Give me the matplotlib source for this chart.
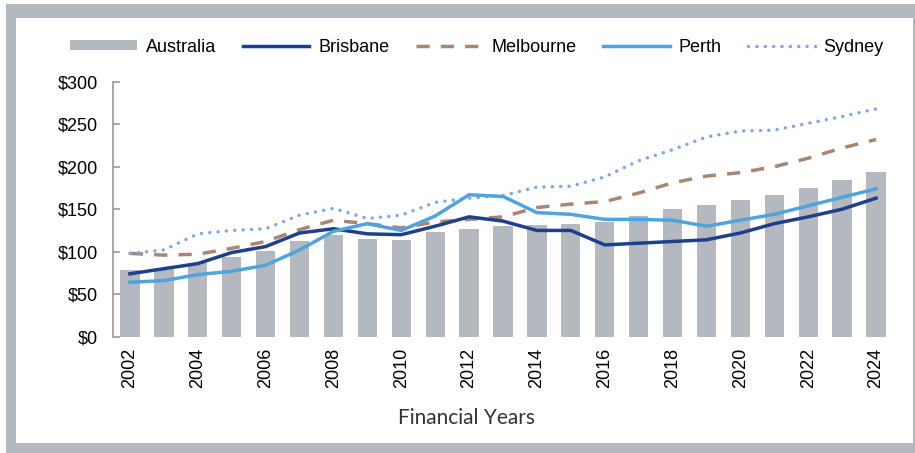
import matplotlib
matplotlib.use("Agg")
import matplotlib.pyplot as plt
from matplotlib.patches import Rectangle
import numpy as np

plt.rcParams['font.family'] = ['Liberation Sans', 'DejaVu Sans']

years = list(range(2002, 2025))
australia = [78, 81, 87, 94, 101, 112, 120, 115, 114, 123, 127, 130, 131, 133, 135,
             142, 150, 155, 161, 167, 175, 184, 194]
brisbane = [74, 80, 86, 99, 106, 122, 127, 121, 120, 130, 141, 136, 125, 125, 108,
            110, 112, 114, 122, 133, 141, 150, 163]
melbourne = [98, 96, 97, 104, 112, 126, 137, 133, 128, 135, 138, 141, 152, 156, 159,
             169, 181, 189, 193, 200, 210, 222, 232]
perth = [64, 66, 73, 77, 84, 102, 124, 133, 125, 142, 167, 165, 146, 144, 138,
         138, 137, 130, 137, 144, 154, 164, 174]
sydney = [98, 102, 121, 125, 127, 143, 151, 139, 143, 158, 163, 166, 176, 177, 188,
          207, 220, 235, 242, 243, 251, 259, 268]

W, H = 915, 453
fig = plt.figure(figsize=(W / 100, H / 100), dpi=100)

# grey frame with white panel inside
fig.patches.append(Rectangle((6 / W, 0), 1 - 6 / W, 1 - 4 / H, transform=fig.transFigure,
                             facecolor='#b4b9bf', edgecolor='none', zorder=-10))
fig.patches.append(Rectangle((16 / W, 10 / H), (913 - 16) / W, (435 - 10) / H,
                             transform=fig.transFigure, facecolor='white',
                             edgecolor='none', zorder=-9))

ax = fig.add_axes([113 / W, (H - 336.7) / H, (893 - 113) / W, (336.7 - 81.7) / H])
ax.patch.set_alpha(0)

x = np.arange(len(years))
ax.bar(x, australia, width=0.57, color='#b4b9bf', label='Australia', zorder=1)
ax.plot(x, brisbane, color='#1d3f8c', lw=2.5, label='Brisbane', zorder=3)
ax.plot(x, melbourne, color='#a98672', lw=2.5, linestyle=(0, (3.8, 3.2)),
        label='Melbourne', zorder=2)
ax.plot(x, perth, color='#4fa4de', lw=2.5, label='Perth', zorder=3)
ax.plot(x, sydney, color='#7ea6ea', lw=2.5, linestyle=(0, (0.01, 2.4)),
        dash_capstyle='round', label='Sydney', zorder=2)

ax.set_xlim(-0.5, len(years) - 0.5)
ax.set_ylim(0, 300)
ax.set_yticks(range(0, 301, 50))
ax.set_yticklabels(['$' + str(v) for v in range(0, 301, 50)], fontsize=13)
ax.set_xticks(x[::2])
ax.set_xticklabels([str(y) for y in years[::2]], rotation=90, fontsize=13)

for s in ['top', 'right', 'bottom']:
    ax.spines[s].set_visible(False)
ax.spines['left'].set_color('#9a9a9a')
ax.spines['left'].set_linewidth(1.2)
ax.tick_params(axis='y', direction='in', length=5, width=1.2, color='#9a9a9a', pad=11)
ax.tick_params(axis='x', length=0, pad=8)

fig.text(467 / W, 1 - 418 / H, 'Financial Years', ha='center', va='center',
         fontsize=15, family=['Lato', 'DejaVu Sans'], color='#333333')

handles, labels = ax.get_legend_handles_labels()
order = [4, 0, 1, 2, 3]
fig.legend([handles[i] for i in order], [labels[i] for i in order],
           loc='center', bbox_to_anchor=(477 / W, 1 - 47 / H), ncol=5, frameon=False,
           fontsize=13, handlelength=3.7, handleheight=0.5, handletextpad=0.5,
           columnspacing=1.45)

fig.savefig('out.png', dpi=100)
